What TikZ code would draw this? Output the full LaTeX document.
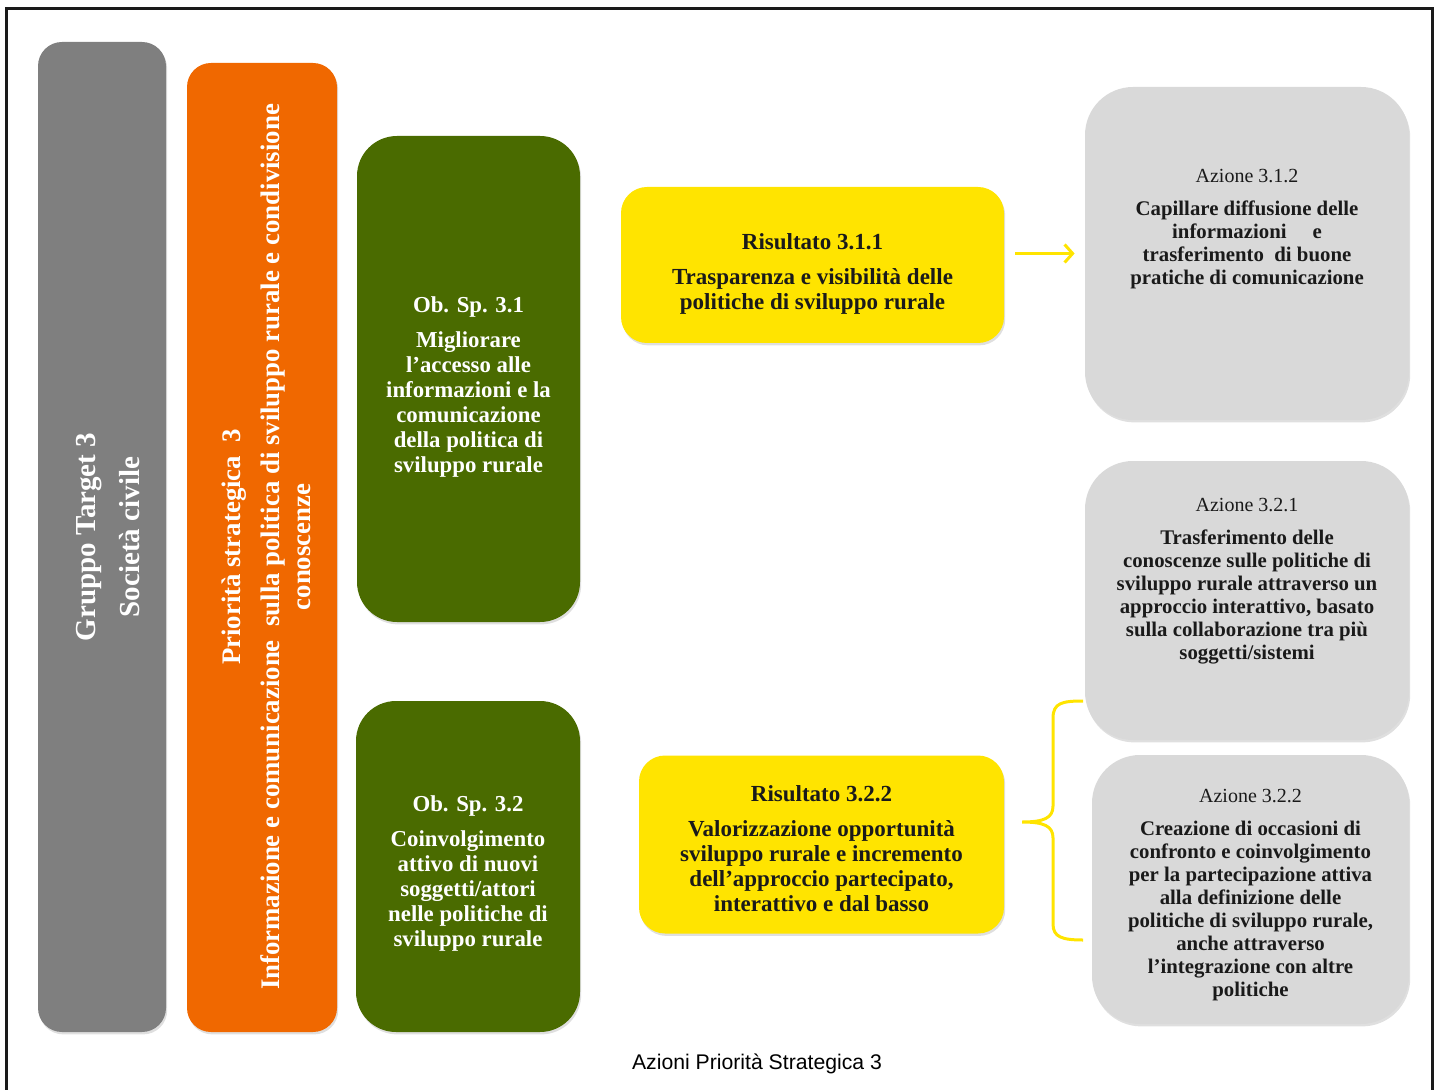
\documentclass[tikz,border=0pt]{standalone}
\usepackage{fontspec}
\setmainfont{Liberation Serif}
\newfontfamily\captionfont{Liberation Sans}
\usetikzlibrary{arrows.meta}
\usetikzlibrary{positioning}
\usetikzlibrary{shadows}
\definecolor{targetgray}{RGB}{127,127,127}
\definecolor{prioorange}{RGB}{240,104,0}
\definecolor{obgreen}{RGB}{74,107,0}
\definecolor{resyellow}{RGB}{255,228,0}
\definecolor{azgray}{RGB}{217,217,217}
\definecolor{inkblack}{RGB}{26,26,26}

\begin{document}
\begin{tikzpicture}[x=0.5pt,y=-0.5pt,
  box/.style={rounded corners=12pt,inner sep=0pt,align=center,drop shadow={shadow xshift=0.6pt,shadow yshift=-1.2pt,opacity=0.25}},
  target/.style={box,fill=targetgray},
  prio/.style={box,fill=prioorange},
  obiettivo/.style={box,rounded corners=20pt,fill=obgreen},
  risultato/.style={box,rounded corners=13pt,fill=resyellow},
  azione/.style={box,rounded corners=24pt,fill=azgray},
  vtext/.style={rotate=90,inner sep=0pt,align=center,text=white},
  obtext/.style={inner sep=0pt,align=center,text=white,font=\bfseries\fontsize{11.4}{12.5}\selectfont},
  restext/.style={inner sep=0pt,align=center,text=inkblack,font=\bfseries\fontsize{11.5}{12.5}\selectfont},
  aztext/.style={inner sep=0pt,align=center,text=inkblack,font=\bfseries\fontsize{10.4}{11.5}\selectfont},
  flow/.style={draw=resyellow,line width=1.5pt,-{Straight Barb[length=4pt,width=9pt]}},
  brace/.style={draw=resyellow,line width=1.5pt}]
\useasboundingbox (0,0) rectangle (1438,1090);
\draw[line width=1.5pt,draw=inkblack] (6,1100) -- (6,9) -- (1432,9) -- (1432,1100);

\node[target,minimum width=64pt,minimum height=495pt] (target) at (102,537) {};
\node[vtext,font=\bfseries\fontsize{14.5}{22}\selectfont] (targettext) at (108,537) {Gruppo Target 3\\Società civile};
\node[prio,minimum width=75pt,minimum height=484.5pt] (prio) at (262,547.5) {};
\node[vtext,font=\bfseries\fontsize{13.4}{15.5}\selectfont] (priotext) at (266,547) {Priorità strategica~\ 3\\[4pt]Informazione e comunicazione~\ sulla politica di sviluppo rurale e condivisione\\conoscenze};

\node[obiettivo,minimum width=111.5pt,minimum height=243pt] (ob31) at (468.5,379) {};
\node[obtext,yshift=-4pt] (ob31text) at (ob31) {Ob. Sp. 3.1\\[5pt]Migliorare\\l’accesso alle\\informazioni e la\\comunicazione\\della politica di\\sviluppo rurale};
\node[obiettivo,minimum width=112pt,minimum height=165.5pt] (ob32) at (468,866.5) {};
\node[obtext,yshift=-3.5pt] (ob32text) at (ob32) {Ob. Sp. 3.2\\[5pt]Coinvolgimento\\attivo di nuovi\\soggetti/attori\\nelle politiche di\\sviluppo rurale};

\node[risultato,minimum width=191.5pt,minimum height=78pt] (res311) at (812.5,265) {};
\node[restext,yshift=-4.5pt] (res311text) at (res311) {Risultato 3.1.1\\[5pt]Trasparenza e visibilità delle\\politiche di sviluppo rurale};
\node[risultato,minimum width=182.5pt,minimum height=89pt] (res322) at (821.5,844.5) {};
\node[restext,yshift=-2pt] (res322text) at (res322) {Risultato 3.2.2\\[5pt]Valorizzazione opportunità\\sviluppo rurale e incremento\\dell’approccio partecipato,\\interattivo e dal basso};

\node[azione,minimum width=162pt,minimum height=166.5pt] (az312) at (1247,253.5) {};
\node[aztext,below=41pt of az312.north] (az312text) {{\mdseries\fontsize{10}{11.5}\selectfont Azione 3.1.2}\\[5pt]Capillare diffusione delle\\informazioni~\ \ \ \ e\\trasferimento~ di buone\\pratiche di comunicazione};
\node[azione,minimum width=162pt,minimum height=139.5pt] (az321) at (1247,600.5) {};
\node[aztext,below=18.5pt of az321.north] (az321text) {{\mdseries\fontsize{10}{11.5}\selectfont Azione 3.2.1}\\[5pt]Trasferimento delle\\conoscenze sulle politiche di\\sviluppo rurale attraverso un\\approccio interattivo, basato\\sulla collaborazione tra più\\soggetti/sistemi};
\node[azione,minimum width=158.5pt,minimum height=134.5pt] (az322) at (1250.5,889.5) {};
\node[aztext,below=17pt of az322.north] (az322text) {{\mdseries\fontsize{10}{11.5}\selectfont Azione 3.2.2}\\[5pt]Creazione di occasioni di\\confronto e coinvolgimento\\per la partecipazione attiva\\alla definizione delle\\politiche di sviluppo rurale,\\anche attraverso\\l’integrazione con altre\\politiche};

\draw[flow,shorten <=5.5pt,shorten >=5pt] (res311.east |- az312.west) -- (az312.west);

\coordinate (bracetop) at (1083,701);
\coordinate (bracetip) at (1022,822);
\coordinate (bracebot) at (1083,940);
\draw[brace] (bracetop) .. controls (1062,701) and (1053,703) .. (1053,718) -- (1053,806) .. controls (1053,818) and (1044,822) .. (bracetip) .. controls (1044,822) and (1053,826) .. (1053,838) -- (1053,924) .. controls (1053,937) and (1062,940) .. (bracebot);

\node[font=\captionfont\fontsize{10.6}{12}\selectfont] (caption) at (757,1064) {Azioni Priorità Strategica 3};
\end{tikzpicture}
\end{document}
